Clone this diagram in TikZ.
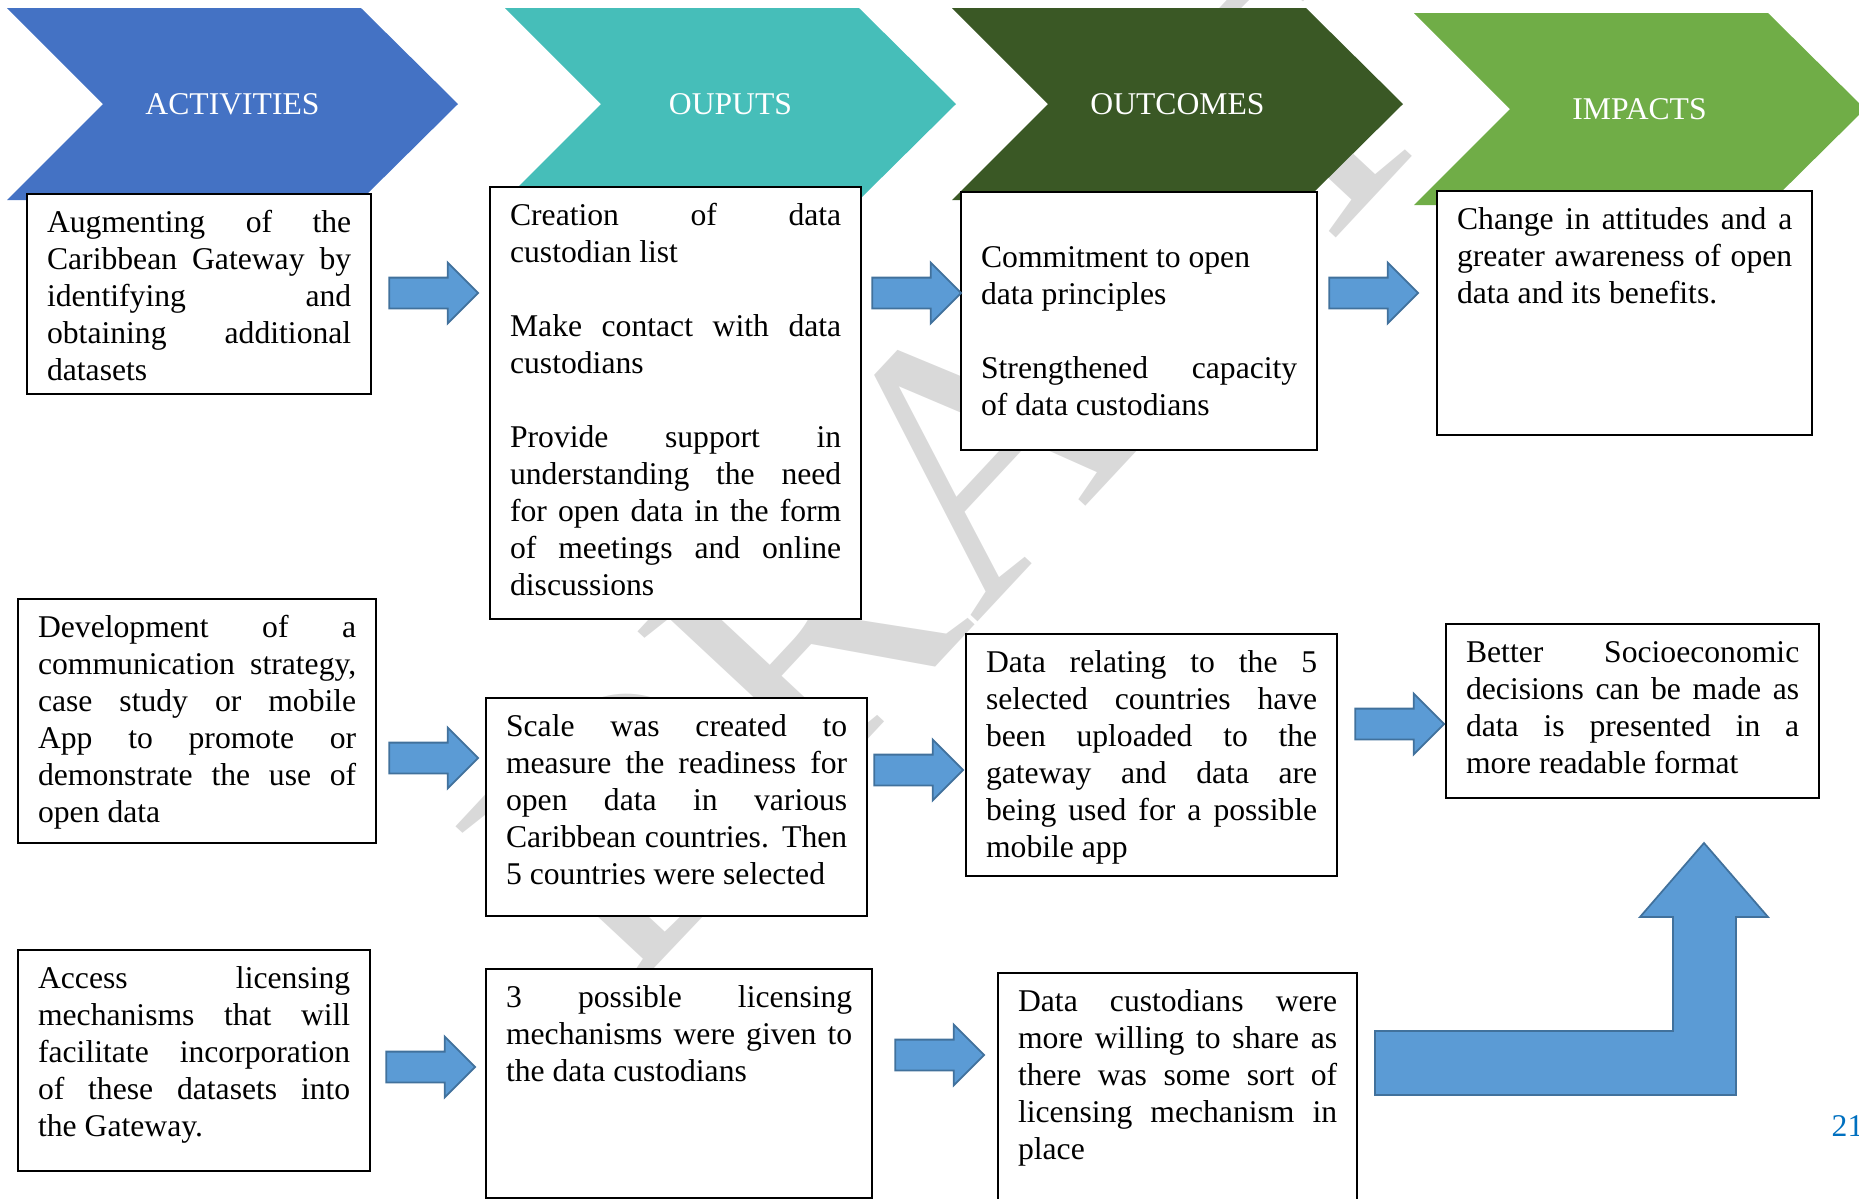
\documentclass[tikz,border=0pt]{standalone}
\usepackage{fontspec}
\setmainfont{Liberation Serif}
\usetikzlibrary{calc}
\usetikzlibrary{shapes.arrows}
\definecolor{col1}{RGB}{68,114,196}
\definecolor{col2}{RGB}{70,190,185}
\definecolor{col3}{RGB}{58,88,37}
\definecolor{col4}{RGB}{112,173,71}
\definecolor{arrfill}{RGB}{91,155,213}
\definecolor{arredge}{RGB}{65,113,156}
\definecolor{wmgray}{RGB}{217,217,217}
\definecolor{pagecol}{RGB}{0,112,192}
\newcommand{\boxtext}[3]{\parbox[c][#2][t]{#1}{\strut #3}}

\begin{document}
\begin{tikzpicture}[x=0.01cm, y=-0.01cm,
    font=\fontsize{9}{10.5}\selectfont,
    textbox/.style={draw, line width=0.6pt, fill=white, anchor=north west,
      inner xsep=0.2cm, inner ysep=0.13cm},
    blockarrow/.style={single arrow, draw=arredge, fill=arrfill, line width=0.5pt,
      inner xsep=0pt, inner ysep=0.145cm, minimum height=0.89cm, minimum width=0.59cm,
      single arrow head extend=0.15cm}]
        \useasboundingbox (0,0) rectangle (1859,1199);
        \clip (0,0) rectangle (1859,1199);
        \coordinate (origin) at (0, 0);

        \node (wm) [text=wmgray, font=\fontsize{105}{105}\selectfont, rotate=47,
            anchor=base west, inner sep=0pt] at ($(origin) + (625,1000)$) {DRAFT};

        \foreach \L/\T/\col/\lab/\nm in {7/8/col1/ACTIVITIES/act, 505/8/col2/OUPUTS/outp,
            952/8/col3/OUTCOMES/outc, 1414/13/col4/IMPACTS/imp} {
            \fill [\col] (\L,\T) -- ++(354,0) -- ++(97,96) -- ++(-97,96) -- ++(-354,0) -- ++(96,-96) -- cycle;
            \node (\nm) [text=white] at (\L+225.5,\T+96) {\lab};
        }

        \node (act1) [textbox] at ($(origin) + (26,193)$) {\boxtext{3.04cm}{1.74cm}{%
            Augmenting of the\linebreak Caribbean Gateway by\linebreak identifying and\linebreak
            obtaining additional\linebreak datasets}};
        \node (outp1) [textbox] at ($(origin) + (489,186)$) {\boxtext{3.31cm}{4.06cm}{%
            Creation of data\linebreak custodian list\\[\baselineskip]
            Make contact with data\linebreak custodians\\[\baselineskip]
            Provide support in\linebreak understanding the need\linebreak for open data in the form\linebreak
            of meetings and online\linebreak discussions}};
        \node (outc1) [textbox] at ($(origin) + (960,191)$) {\boxtext{3.16cm}{2.32cm}{%
            \par\strut Commitment to open\\data principles\\[\baselineskip]
            Strengthened capacity\linebreak of data custodians}};
        \node (imp1) [textbox] at ($(origin) + (1436,190)$) {\boxtext{3.35cm}{2.18cm}{%
            Change in attitudes and a\linebreak greater awareness of open\linebreak data and its benefits.}};

        \node (act2) [textbox] at ($(origin) + (17,598)$) {\boxtext{3.18cm}{2.18cm}{%
            Development of a\linebreak communication strategy,\linebreak case study or mobile\linebreak
            App to promote or\linebreak demonstrate the use of\linebreak open data}};
        \node (outp2) [textbox] at ($(origin) + (485,697)$) {\boxtext{3.41cm}{1.92cm}{%
            Scale was created to\linebreak measure the readiness for\linebreak open data in various\linebreak
            Caribbean countries. Then\linebreak 5 countries were selected}};
        \node (outc2) [textbox] at ($(origin) + (965,633)$) {\boxtext{3.31cm}{2.16cm}{%
            Data relating to the 5\linebreak selected countries have\linebreak been uploaded to the\linebreak
            gateway and data are\linebreak being used for a possible\linebreak mobile app}};
        \node (imp2) [textbox] at ($(origin) + (1445,623)$) {\boxtext{3.33cm}{1.48cm}{%
            Better Socioeconomic\linebreak decisions can be made as\linebreak data is presented in a\linebreak
            more readable format}};

        \node (act3) [textbox] at ($(origin) + (17,949)$) {\boxtext{3.12cm}{1.95cm}{%
            Access licensing\linebreak mechanisms that will\linebreak facilitate incorporation\linebreak
            of these datasets into\linebreak the Gateway.}};
        \node (outp3) [textbox] at ($(origin) + (485,968)$) {\boxtext{3.46cm}{2.03cm}{%
            3 possible licensing\linebreak mechanisms were given to\linebreak the data custodians}};
        \node (outc3) [textbox] at ($(origin) + (997,972)$) {\boxtext{3.19cm}{2.34cm}{%
            Data custodians were\linebreak more willing to share as\linebreak there was some sort of\linebreak
            licensing mechanism in\linebreak place}};

        \node (ar11) [blockarrow] at ($(origin) + (426,293)$) {};
        \node (ar12) [blockarrow] at ($(origin) + (909,293)$) {};
        \node (ar13) [blockarrow] at ($(origin) + (1366,293)$) {};
        \node (ar21) [blockarrow] at ($(origin) + (426,758)$) {};
        \node (ar22) [blockarrow] at ($(origin) + (911,770)$) {};
        \node (ar23) [blockarrow] at ($(origin) + (1392,724)$) {};
        \node (ar31) [blockarrow] at ($(origin) + (423,1067)$) {};
        \node (ar32) [blockarrow] at ($(origin) + (932,1055)$) {};

        \draw [arredge, fill=arrfill, line width=0.5pt] (1375,1031) -- (1673,1031) -- (1673,917) -- (1640,917)
            -- (1704,843) -- (1768,917) -- (1736,917) -- (1736,1095) -- (1375,1095) -- cycle;

        \node (page) [text=pagecol, anchor=base west, inner sep=0pt] at ($(origin) + (1831,1136)$) {21};
      \end{tikzpicture}
\end{document}
